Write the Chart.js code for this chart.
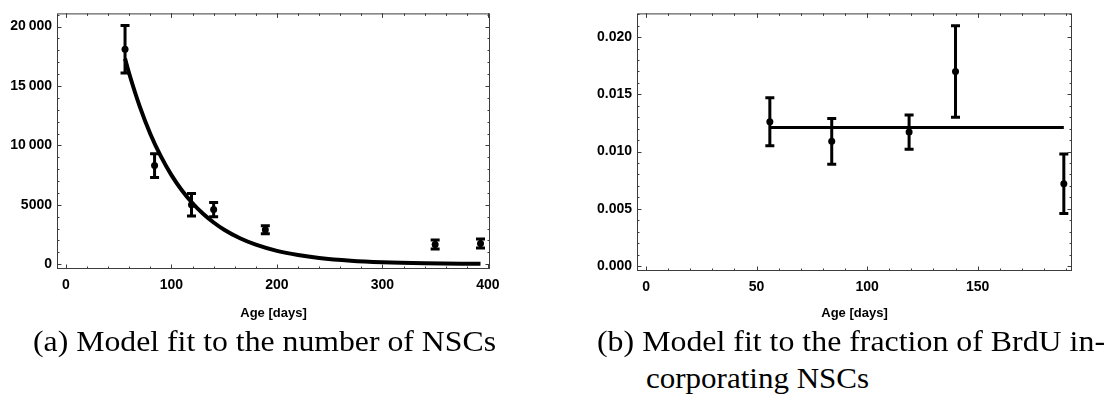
<!DOCTYPE html>
<html>
<head>
<meta charset="utf-8">
<script src="https://cdn.jsdelivr.net/npm/chart.js@4/dist/chart.umd.min.js"></script>
<style>
  body { margin:0; background:#fff; width:1108px; height:408px; overflow:hidden; position:relative; }
  .box { position:absolute; top:0; }
  .cap { position:absolute; font-family:'Liberation Serif','DejaVu Serif',serif; font-size:29px; line-height:29px;
         white-space:nowrap; color:#000; transform-origin:0 0; }
</style>
</head>
<body>
<div class="box" style="left:0"><canvas id="chartA" width="520" height="330"></canvas></div>
<div class="box" style="left:580px"><canvas id="chartB" width="520" height="330"></canvas></div>
<div class="cap" data-w="463" style="left:33px;top:327px">(a) Model fit to the number of NSCs</div>
<div class="cap" data-w="508" style="left:597px;top:327px">(b) Model fit to the fraction of BrdU in-</div>
<div class="cap" data-w="223" style="left:646px;top:364px">corporating NSCs</div>
<script>
// (a) nombre de NSCs
const ageA = [56, 84, 119, 140, 189, 350, 393];
const nscA = [18100, 8300, 5000, 4600, 2900, 1650, 1750];
const errA = [2000, 1000, 950, 600, 330, 380, 380];
const fitAgeA = [56, 60, 70, 80, 90, 100, 110, 120, 130, 140, 150, 165, 180, 200, 220, 240, 270, 300, 340, 393];
const fitNscA = [17300, 16030, 13260, 10960, 9070, 7500, 6200, 5130, 4240, 3510, 2900, 2180, 1640, 1120, 770, 525, 297, 168, 78, 29];
const xTicksA = [0, 100, 200, 300, 400];
const yTicksA = [0, 5000, 10000, 15000, 20000];
const yLabelsA = ['0', '5000', '10\u2009000', '15\u2009000', '20\u2009000'];

// (b) fraction BrdU
const ageB = [56, 84, 119, 140, 189];
const fracB = [0.0126, 0.0109, 0.0117, 0.0170, 0.0072];
const errB = [0.0021, 0.0020, 0.0015, 0.0040, 0.0026];
const fitAgeB = [56, 189];
const fitFracB = [0.0121, 0.0121];
const xTicksB = [0, 50, 100, 150];
const yTicksB = [0, 0.005, 0.010, 0.015, 0.020];
const yLabelsB = ['0.000', '0.005', '0.010', '0.015', '0.020'];

const tickFont = { family: 'Liberation Sans', size: 14, weight: 'bold' };

// barres d'erreur, via les échelles
const errorBars = {
  id: 'errorBars',
  beforeDatasetsDraw(chart) {
    const { ctx, scales: { x, y } } = chart;
    ctx.save();
    ctx.strokeStyle = '#000';
    ctx.lineWidth = 3;
    chart.data.datasets.forEach(ds => {
      if (!ds.errors) return;
      ds.data.forEach((d, i) => {
        const px = x.getPixelForValue(d.x);
        const top = y.getPixelForValue(d.y + ds.errors[i]);
        const bot = y.getPixelForValue(d.y - ds.errors[i]);
        ctx.beginPath();
        ctx.moveTo(px, top); ctx.lineTo(px, bot);
        ctx.moveTo(px - 4.5, top); ctx.lineTo(px + 4.5, top);
        ctx.moveTo(px - 4.5, bot); ctx.lineTo(px + 4.5, bot);
        ctx.stroke();
      });
    });
    ctx.restore();
  }
};

// cadre façon Mathematica, graduations vers l'intérieur
const cadre = {
  id: 'cadre',
  afterDatasetsDraw(chart, args, opts) {
    const { ctx, chartArea: a, scales: { x, y } } = chart;
    ctx.save();
    ctx.strokeStyle = '#3c3c3c';
    ctx.lineWidth = 1;
    ctx.strokeRect(a.left + 0.5, a.top + 0.5, a.right - a.left - 1, a.bottom - a.top - 1);
    const mark = (scale, step, len) => {
      ctx.beginPath();
      for (let i = Math.ceil(scale.min / step); i * step <= scale.max; i++) {
        const p = Math.round(scale.getPixelForValue(i * step)) + 0.5;
        if (scale.isHorizontal()) {
          ctx.moveTo(p, a.bottom); ctx.lineTo(p, a.bottom - len);
          ctx.moveTo(p, a.top); ctx.lineTo(p, a.top + len);
        } else {
          ctx.moveTo(a.left, p); ctx.lineTo(a.left + len, p);
          ctx.moveTo(a.right, p); ctx.lineTo(a.right - len, p);
        }
      }
      ctx.stroke();
    };
    mark(x, opts.xMinor, 2.5);
    mark(x, opts.xMajor, 4.5);
    mark(y, opts.yMinor, 2.5);
    mark(y, opts.yMajor, 4.5);
    ctx.restore();
  }
};

function makeChart(id, o) {
  return new Chart(document.getElementById(id), {
    type: 'scatter',
    data: {
      datasets: [
        {
          type: 'line',
          data: o.fitX.map((v, i) => ({ x: v, y: o.fitY[i] })),
          borderColor: '#000',
          borderWidth: o.fitWidth,
          pointRadius: 0,
          cubicInterpolationMode: 'monotone',
          borderCapStyle: 'butt'
        },
        {
          data: o.x.map((v, i) => ({ x: v, y: o.y[i] })),
          errors: o.err,
          backgroundColor: '#000',
          borderWidth: 0,
          pointRadius: 3.5
        }
      ]
    },
    options: {
      responsive: false,
      animation: false,
      devicePixelRatio: 1,
      layout: { padding: { left: 0, top: o.padTop, right: o.padRight, bottom: 0 } },
      scales: {
        x: {
          type: 'linear', min: o.xMin, max: o.xMax,
          afterBuildTicks: s => { s.ticks = o.xTicks.map(v => ({ value: v })); },
          afterFit: s => { s.height = o.xHeight; },
          grid: { display: false, drawTicks: false },
          border: { display: false },
          ticks: { font: tickFont, color: '#000', padding: 8, autoSkip: false, maxRotation: 0,
                   callback: v => String(v) },
          title: { display: true, text: 'Age [days]', font: { family: 'Liberation Sans', size: 13, weight: 'bold' },
                   color: '#000', padding: { top: 0, bottom: 9 } }
        },
        y: {
          type: 'linear', min: o.yMin, max: o.yMax,
          afterBuildTicks: s => { s.ticks = o.yTicks.map(v => ({ value: v })); },
          afterFit: s => { s.width = 57; },
          grid: { display: false, drawTicks: false },
          border: { display: false },
          ticks: { font: tickFont, color: '#000', padding: 5, autoSkip: false,
                   callback: (v, i) => o.yLabels[i] }
        }
      },
      plugins: {
        legend: { display: false },
        tooltip: { enabled: false },
        cadre: o.cadre
      }
    },
    plugins: [errorBars, cadre]
  });
}

makeChart('chartA', {
  x: ageA, y: nscA, err: errA, fitX: fitAgeA, fitY: fitNscA, fitWidth: 4,
  xMin: -8.5, xMax: 402, yMin: -405, yMax: 21110,
  xTicks: xTicksA, yTicks: yTicksA, yLabels: yLabelsA,
  padTop: 3, padRight: 30, xHeight: 61,
  cadre: { xMinor: 20, xMajor: 100, yMinor: 1000, yMajor: 5000 }
});

makeChart('chartB', {
  x: ageB, y: fracB, err: errB, fitX: fitAgeB, fitY: fitFracB, fitWidth: 3,
  xMin: -4.1, xMax: 192.7, yMin: -0.00043, yMax: 0.02207,
  xTicks: xTicksB, yTicks: yTicksB, yLabels: yLabelsB,
  padTop: 3, padRight: 28, xHeight: 59,
  cadre: { xMinor: 10, xMajor: 50, yMinor: 0.001, yMajor: 0.005 }
});

// légendes (a)/(b) étirées à la largeur de la référence
document.querySelectorAll('.cap').forEach(el => {
  el.style.transform = 'scaleX(' + (+el.dataset.w / el.getBoundingClientRect().width) + ')';
});
</script>
</body>
</html>
